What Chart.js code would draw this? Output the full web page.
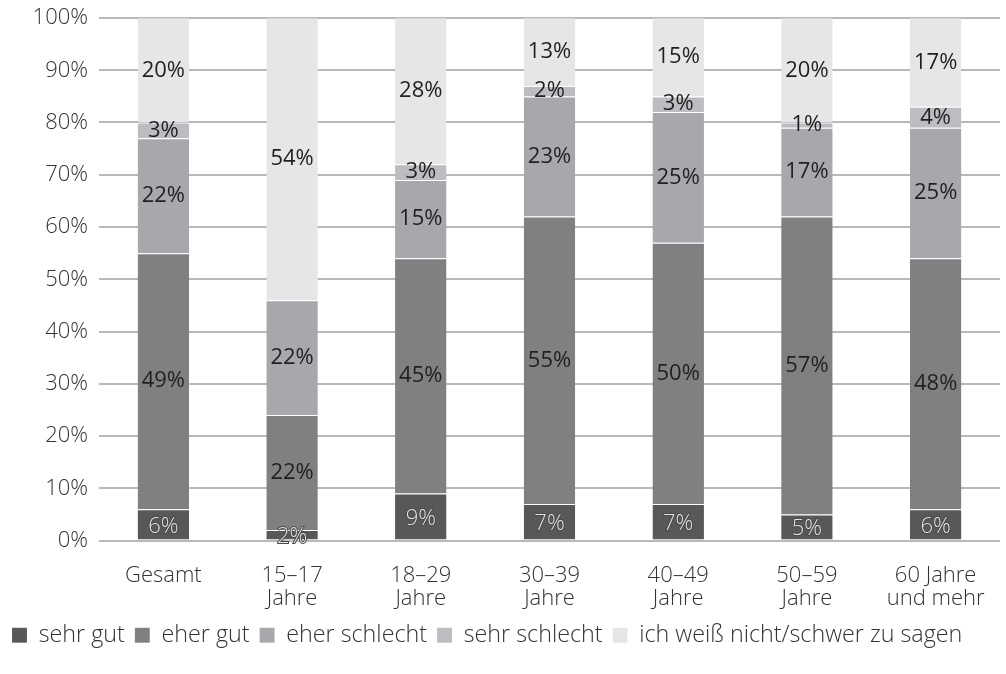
<!DOCTYPE html>
<html lang="de">
<head>
    <meta charset="UTF-8">
    <title>Einschätzung nach Altersgruppen</title>
    <script src="https://cdn.jsdelivr.net/npm/chart.js@4.4.1/dist/chart.umd.min.js"></script>
    <style>
        html, body {
            margin: 0;
            padding: 0;
            background: white;
        }
        .wrap {
            width: 1006px;
            height: 674px;
            position: relative;
        }
    </style>
</head>
<body>
    <div class="wrap">
        <canvas id="chart"></canvas>
    </div>

    <script>
        // categories and series (values in %)
        const categories = [
            'Gesamt',
            ['15–17', 'Jahre'],
            ['18–29', 'Jahre'],
            ['30–39', 'Jahre'],
            ['40–49', 'Jahre'],
            ['50–59', 'Jahre'],
            ['60 Jahre', 'und mehr']
        ];
        const seriesNames = ['sehr gut', 'eher gut', 'eher schlecht', 'sehr schlecht', 'ich weiß nicht/schwer zu sagen'];
        const sehrGut      = [6, 2, 9, 7, 7, 5, 6];
        const eherGut      = [49, 22, 45, 55, 50, 57, 48];
        const eherSchlecht = [22, 22, 15, 23, 25, 17, 25];
        const sehrSchlecht = [3, 0, 3, 2, 3, 1, 4];
        const weissNicht   = [20, 54, 28, 13, 15, 20, 17];
        const yTicks = [0, 10, 20, 30, 40, 50, 60, 70, 80, 90, 100];

        const colors = ['#58585a', '#808083', '#a7a8ab', '#bcbdc0', '#e6e6e8'];
        const FONT = '"Open Sans", "DejaVu Sans", sans-serif';

        const values = [sehrGut, eherGut, eherSchlecht, sehrSchlecht, weissNicht];

        // draws the % labels in the middle of each segment
        const segmentLabels = {
            id: 'segmentLabels',
            afterDatasetsDraw(chart) {
                const ctx = chart.ctx;
                ctx.save();
                ctx.textAlign = 'center';
                ctx.textBaseline = 'middle';
                chart.data.datasets.forEach((ds, i) => {
                    const meta = chart.getDatasetMeta(i);
                    meta.data.forEach((bar, j) => {
                        const v = ds.data[j];
                        if (!v) return;
                        const y = (bar.y + bar.base) / 2;
                        const txt = v + '%';
                        if (i === 0) {
                            ctx.font = '300 22px ' + FONT;
                            ctx.lineWidth = 2;
                            ctx.strokeStyle = '#4a4a4c';
                            ctx.strokeText(txt, bar.x, y + 2);
                            ctx.fillStyle = '#e4e4e4';
                            ctx.fillText(txt, bar.x, y + 2);
                        } else {
                            ctx.font = '22px ' + FONT;
                            ctx.fillStyle = '#231f20';
                            ctx.fillText(txt, bar.x, y);
                        }
                    });
                });
                ctx.restore();
            }
        };

        new Chart(document.getElementById('chart'), {
            type: 'bar',
            data: {
                labels: categories,
                datasets: values.map((d, i) => ({
                    label: seriesNames[i],
                    data: d,
                    backgroundColor: colors[i],
                    borderColor: 'rgba(255,255,255,0.45)',
                    borderWidth: { top: 1 },
                    borderSkipped: false,
                    barPercentage: 0.4,
                    categoryPercentage: 1
                }))
            },
            options: {
                responsive: true,
                maintainAspectRatio: false,
                animation: false,
                layout: {
                    padding: { left: 2, right: 6, top: 18, bottom: 17 }
                },
                scales: {
                    x: {
                        stacked: true,
                        grid: { display: false },
                        border: { display: false },
                        afterFit: (axis) => { axis.height -= 13; },
                        ticks: {
                            color: '#333',
                            font: { family: FONT, size: 22, weight: 300, lineHeight: 1.05 },
                            padding: 16
                        }
                    },
                    y: {
                        stacked: true,
                        min: 0,
                        max: 100,
                        afterBuildTicks: (axis) => {
                            axis.ticks = yTicks.map(v => ({ value: v }));
                        },
                        afterFit: (axis) => {
                            axis.width = 97;
                            axis.paddingTop = 0;
                        },
                        grid: {
                            color: '#b8b8bb',
                            lineWidth: 2,
                            drawTicks: false
                        },
                        border: { display: false },
                        ticks: {
                            color: '#333',
                            font: { family: FONT, size: 22, weight: 300 },
                            padding: 11,
                            callback: (v) => v + '%'
                        }
                    }
                },
                plugins: {
                    legend: {
                        position: 'bottom',
                        align: 'start',
                        labels: {
                            color: '#333',
                            font: { family: FONT, size: 23.3, weight: 300 },
                            boxWidth: 15,
                            boxHeight: 15,
                            padding: 10,
                            useBorderRadius: false
                        }
                    },
                    tooltip: { enabled: false }
                }
            },
            plugins: [segmentLabels]
        });
    </script>
</body>
</html>
